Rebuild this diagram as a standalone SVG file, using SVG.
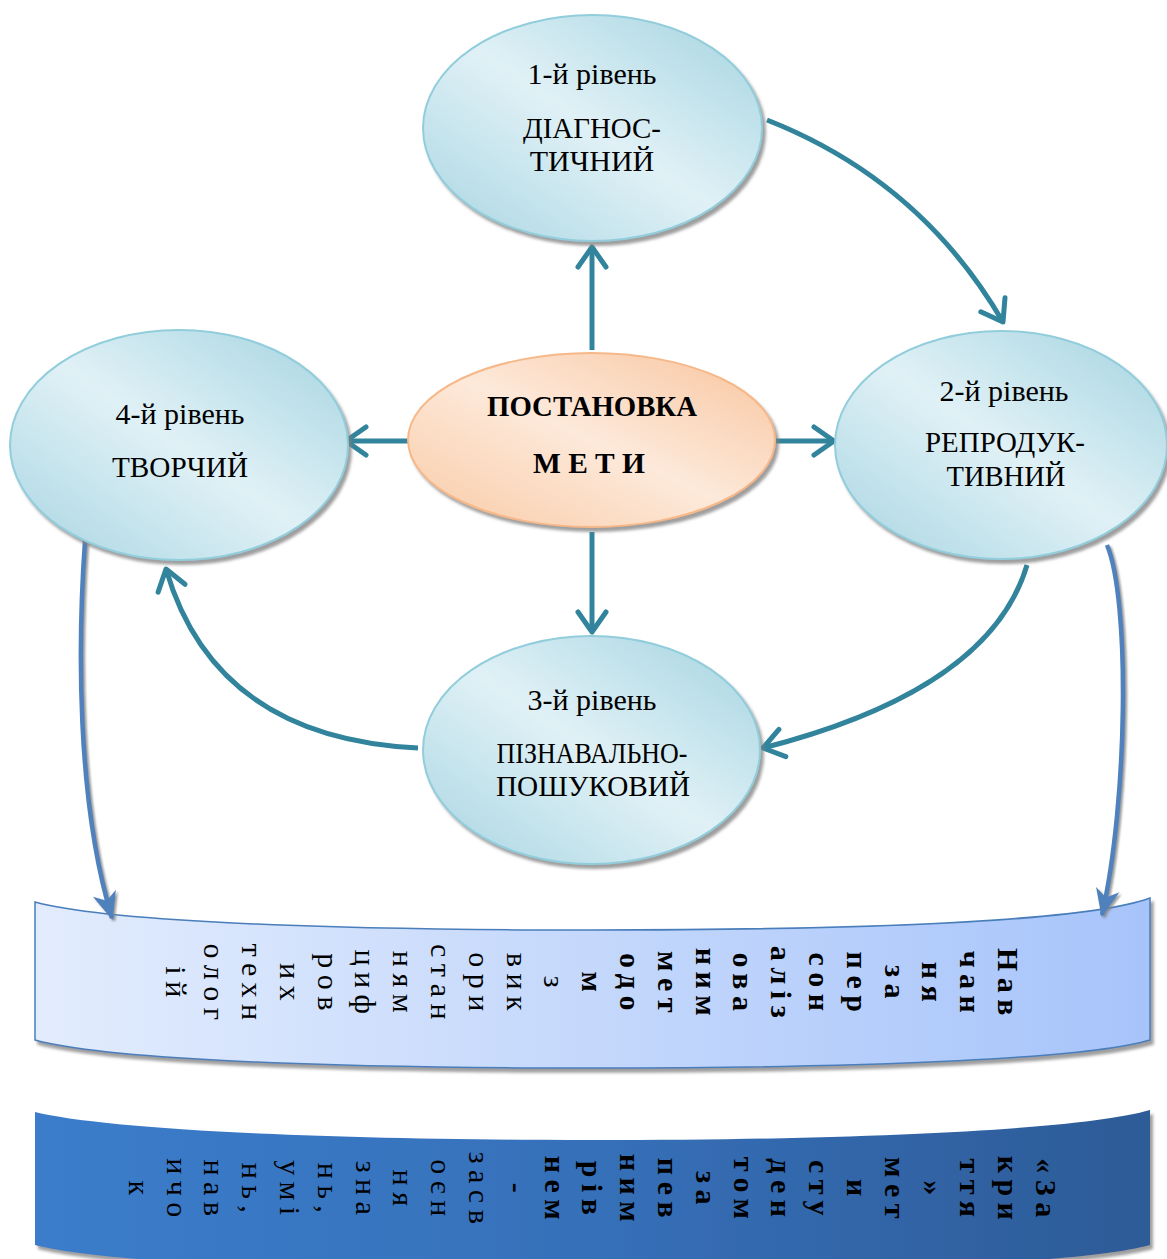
<svg xmlns="http://www.w3.org/2000/svg" width="1167" height="1259" viewBox="0 0 1167 1259">
<defs>
<style>
.t{font-family:"Liberation Serif","Times New Roman",serif;font-size:30px;fill:#000;text-anchor:middle}
.b{font-weight:bold}
.col{font-family:"Liberation Serif","Times New Roman",serif;font-size:30px;fill:#000;text-anchor:middle;letter-spacing:6.5px}
.ell{fill:url(#gBlue);stroke:#92cddc;stroke-width:2;filter:url(#sh)}
.teal{fill:none;stroke:#31849b;stroke-width:5}
.blue{fill:none;stroke:#4f81bd;stroke-width:4.5;filter:url(#sh2)}
</style>
<linearGradient id="gBlue" x1="1" y1="0" x2="0" y2="1">
<stop offset="0" stop-color="#a3d3e0"/>
<stop offset="0.5" stop-color="#e0f1f6"/>
<stop offset="1" stop-color="#a8d5e2"/>
</linearGradient>
<linearGradient id="gOrange" x1="1" y1="0" x2="0" y2="1">
<stop offset="0" stop-color="#f8c49d"/>
<stop offset="0.5" stop-color="#fde9da"/>
<stop offset="1" stop-color="#f9caa5"/>
</linearGradient>
<linearGradient id="gBan1" x1="0" y1="0" x2="1" y2="0">
<stop offset="0" stop-color="#e2ecfd"/>
<stop offset="1" stop-color="#a7c4fa"/>
</linearGradient>
<linearGradient id="gBan2" x1="0" y1="0" x2="1" y2="0">
<stop offset="0" stop-color="#3b7dcb"/>
<stop offset="0.5" stop-color="#3670b9"/>
<stop offset="1" stop-color="#2d5b97"/>
</linearGradient>
<filter id="sh" x="-10%" y="-10%" width="130%" height="130%">
<feDropShadow dx="3" dy="4" stdDeviation="1.5" flood-color="#7f7f7f" flood-opacity="0.75"/>
</filter>
<filter id="sh2" x="-50%" y="-10%" width="200%" height="130%">
<feDropShadow dx="2" dy="2" stdDeviation="1" flood-color="#808080" flood-opacity="0.8"/>
</filter>
<marker id="tealHead" viewBox="0 0 26 30" refX="23" refY="15" markerWidth="26" markerHeight="30" markerUnits="userSpaceOnUse" orient="auto" overflow="visible">
<path d="M3,1 L23,15 L3,29" fill="none" stroke="#31849b" stroke-width="5" stroke-linecap="round" stroke-linejoin="round"/>
</marker>
<marker id="blueHead" viewBox="0 0 28 24" refX="26" refY="12" markerWidth="28" markerHeight="24" markerUnits="userSpaceOnUse" orient="auto" overflow="visible">
<path d="M0,0 L28,12 L0,24 L8,12 Z" fill="#4f81bd"/>
</marker>
</defs>
<rect width="1167" height="1259" fill="#fff"/>

<g id="banner-2">
<path d="M35,1112 C100,1128 300,1140 592,1140 C884,1140 1090,1128 1150,1110 L1150,1245 C1090,1262 884,1272 592,1272 C300,1272 100,1262 35,1245 Z" fill="url(#gBan2)" filter="url(#sh)"/>
<g class="col b">
<text transform="translate(1036,1191) rotate(90)">«За</text>
<text transform="translate(998,1191) rotate(90)">кри</text>
<text transform="translate(960,1191) rotate(90)">ття</text>
<text transform="translate(923,1191) rotate(90)">»</text>
<text transform="translate(885,1191) rotate(90)">мет</text>
<text transform="translate(847,1191) rotate(90)">и</text>
<text transform="translate(809,1191) rotate(90)">сту</text>
<text transform="translate(771,1191) rotate(90)">ден</text>
<text transform="translate(734,1191) rotate(90)">том</text>
<text transform="translate(696,1191) rotate(90)">за</text>
<text transform="translate(658,1191) rotate(90)">пев</text>
<text transform="translate(620,1191) rotate(90)">ним</text>
<text transform="translate(582,1191) rotate(90)">рів</text>
<text transform="translate(545,1191) rotate(90)">нем</text>
<text transform="translate(507,1191) rotate(90)">-</text>
</g>
<g class="col">
<text transform="translate(469,1191) rotate(90)">засв</text>
<text transform="translate(431,1191) rotate(90)">оєн</text>
<text transform="translate(393,1191) rotate(90)">ня</text>
<text transform="translate(356,1191) rotate(90)">зна</text>
<text transform="translate(318,1191) rotate(90)">нь,</text>
<text transform="translate(280,1191) rotate(90)">умі</text>
<text transform="translate(242,1191) rotate(90)">нь,</text>
<text transform="translate(204,1191) rotate(90)">нав</text>
<text transform="translate(167,1191) rotate(90)">ичо</text>
<text transform="translate(129,1191) rotate(90)">к</text>
</g>
</g>

<g id="banner-1">
<path d="M35,902 C100,920 300,930 592,930 C884,930 1090,920 1150,898 L1150,1040 C1090,1058 884,1068 592,1068 C300,1068 100,1058 35,1040 Z" fill="url(#gBan1)" stroke="#4a7ebb" stroke-width="1.5" filter="url(#sh)"/>
<g class="col b">
<text transform="translate(998,985) rotate(90)">Нав</text>
<text transform="translate(960,985) rotate(90)">чан</text>
<text transform="translate(922,985) rotate(90)">ня</text>
<text transform="translate(885,985) rotate(90)">за</text>
<text transform="translate(847,985) rotate(90)">пер</text>
<text transform="translate(809,985) rotate(90)">сон</text>
<text transform="translate(771,985) rotate(90)">аліз</text>
<text transform="translate(733,985) rotate(90)">ова</text>
<text transform="translate(696,985) rotate(90)">ним</text>
<text transform="translate(658,985) rotate(90)">мет</text>
<text transform="translate(620,985) rotate(90)">одо</text>
<text transform="translate(582,985) rotate(90)">м</text>
</g>
<g class="col">
<text transform="translate(544,985) rotate(90)">з</text>
<text transform="translate(507,985) rotate(90)">вик</text>
<text transform="translate(469,985) rotate(90)">ори</text>
<text transform="translate(431,985) rotate(90)">стан</text>
<text transform="translate(393,985) rotate(90)">ням</text>
<text transform="translate(355,985) rotate(90)">циф</text>
<text transform="translate(318,985) rotate(90)">ров</text>
<text transform="translate(280,985) rotate(90)">их</text>
<text transform="translate(242,985) rotate(90)">техн</text>
<text transform="translate(204,985) rotate(90)">олог</text>
<text transform="translate(166,985) rotate(90)">ій</text>
</g>
</g>

<g id="connectors">
<path class="teal" d="M592,350 L592,247" marker-end="url(#tealHead)"/>
<path class="teal" d="M776,441 L834,441" marker-end="url(#tealHead)"/>
<path class="teal" d="M408,441 L346,441" marker-end="url(#tealHead)"/>
<path class="teal" d="M592,532 L592,632" marker-end="url(#tealHead)"/>
<path class="teal" d="M767,120 Q920,180 1003,322" marker-end="url(#tealHead)"/>
<path class="teal" d="M1027,565 Q990,690 763,748" marker-end="url(#tealHead)"/>
<path class="teal" d="M418,748 Q215,738 166,569" marker-end="url(#tealHead)"/>
<path class="blue" d="M85,541 C78,640 76,800 112,918" marker-end="url(#blueHead)"/>
<path class="blue" d="M1107,545 C1130,600 1128,800 1102,915" marker-end="url(#blueHead)"/>
<path class="blue" d="M592,866 L592,929" marker-end="url(#blueHead)"/>
<path class="blue" d="M592,1069 L592,1139" marker-end="url(#blueHead)"/>
</g>

<g id="level-1">
<ellipse class="ell" cx="592.5" cy="128" rx="169.5" ry="113"/>
<text class="t" x="592" y="84">1-й рівень</text>
<text class="t" x="592" y="138" textLength="138" lengthAdjust="spacingAndGlyphs">ДІАГНОС-</text>
<text class="t" x="592" y="171">ТИЧНИЙ</text>
</g>

<g id="goal">
<ellipse cx="591.5" cy="440" rx="183.5" ry="87" fill="url(#gOrange)" stroke="#f6b889" stroke-width="2" filter="url(#sh)"/>
<text class="t b" x="592" y="416" textLength="210" lengthAdjust="spacingAndGlyphs">ПОСТАНОВКА</text>
<text class="t b" x="589" y="473" textLength="112" lengthAdjust="spacingAndGlyphs">М Е Т И</text>
</g>

<g id="level-2">
<ellipse class="ell" cx="1001" cy="445" rx="166" ry="114"/>
<text class="t" x="1004" y="401">2-й рівень</text>
<text class="t" x="1005" y="452" textLength="160" lengthAdjust="spacingAndGlyphs">РЕПРОДУК-</text>
<text class="t" x="1006" y="486" textLength="119" lengthAdjust="spacingAndGlyphs">ТИВНИЙ</text>
</g>

<g id="level-3">
<ellipse class="ell" cx="591.5" cy="750" rx="168.5" ry="114"/>
<text class="t" x="592" y="710">3-й рівень</text>
<text class="t" x="592" y="763" textLength="191" lengthAdjust="spacingAndGlyphs">ПІЗНАВАЛЬНО-</text>
<text class="t" x="593" y="796" textLength="194" lengthAdjust="spacingAndGlyphs">ПОШУКОВИЙ</text>
</g>

<g id="level-4">
<ellipse class="ell" cx="179" cy="445" rx="169" ry="115"/>
<text class="t" x="180" y="424">4-й рівень</text>
<text class="t" x="180" y="477" textLength="136" lengthAdjust="spacingAndGlyphs">ТВОРЧИЙ</text>
</g>
</svg>
